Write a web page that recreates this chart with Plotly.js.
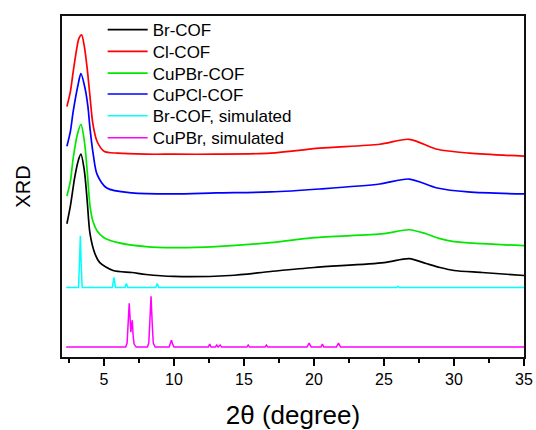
<!DOCTYPE html>
<html>
<head>
<meta charset="utf-8">
<script src="https://cdn.plot.ly/plotly-3.0.1.min.js"></script>
<style>html,body{margin:0;padding:0;background:#fff;}#chart{width:536px;height:430px;}</style>
</head>
<body>
<div id="chart"></div>
<script>
// Values (intensity in arbitrary units, stacked offsets included)
var brCofX = [2.35, 2.6, 2.9, 3.15, 3.35, 3.6, 3.8, 4.0, 4.35, 4.7, 5.65, 7, 8, 10, 14, 16.9, 20, 25, 26.8, 28, 29, 30, 32, 35];
var brCofY = [134, 152, 180, 197, 204, 187, 157, 124, 104, 95, 87, 85, 83, 81, 82, 86, 90, 95, 99, 94, 90, 87, 85, 82];

var clCofX = [2.35, 2.6, 2.8, 3.05, 3.2, 3.4, 3.6, 3.8, 4.0, 4.2, 4.5, 5.0, 6.0, 8, 10, 13, 16.9, 20.4, 24.7, 26.8, 28.8, 31.1, 35];
var clCofY = [252, 267, 287, 310, 320, 324, 312, 290, 262, 235, 217, 207, 205, 204, 204, 204, 205, 210, 214, 219, 209, 205, 202];

var cuPBrCofX = [2.35, 2.6, 2.8, 3.1, 3.35, 3.6, 3.8, 4.0, 4.2, 4.5, 5.0, 6, 8, 10, 13, 16.9, 20, 25, 26.8, 28, 29, 30, 32, 35];
var cuPBrCofY = [162, 177, 200, 224, 234, 217, 187, 152, 137, 127, 120, 115, 111, 110, 111, 115, 120, 124, 128, 124, 119, 116, 114, 112];

var cuPClCofX = [2.35, 2.6, 2.8, 3.15, 3.35, 3.65, 3.85, 4.0, 4.25, 4.5, 5.2, 7, 10, 13, 16.9, 20.4, 24.7, 26.8, 28.8, 31, 35];
var cuPClCofY = [212, 227, 247, 274, 285, 270, 252, 230, 202, 184, 170, 165, 164, 165, 166, 169, 174, 179, 170, 166, 164];

var brSimX = [2.3, 3.18, 3.25, 3.31, 3.37, 3.44, 5.6, 5.71, 5.82, 6.5, 6.6, 6.7, 8.7, 8.8, 8.9, 25.9, 26.0, 26.1, 35];
var brSimY = [70, 70, 95, 122, 95, 70, 70, 80, 70, 70, 74, 70, 70, 74, 70, 70, 71, 70, 70];

var cuPBrSimX = [2.3, 6.55, 6.65, 6.72, 6.8, 6.86, 6.92, 6.97, 7.02, 7.08, 7.15, 7.3, 8.1, 8.2, 8.28, 8.36, 8.44, 8.52, 8.65, 9.65, 9.75, 9.82, 9.9, 10.0, 12.45, 12.55, 12.65, 12.95, 13.05, 13.15, 13.3, 13.4, 13.5, 15.2, 15.3, 15.4, 16.5, 16.6, 16.7, 19.5, 19.65, 19.8, 20.5, 20.6, 20.7, 21.6, 21.75, 21.9, 35];
var cuPBrSimY = [10, 10, 14, 30, 54, 40, 25, 32, 37, 22, 13, 10, 10, 14, 35, 61, 35, 14, 10, 10, 14, 17, 13, 10, 10, 13, 10, 10, 12, 10, 12, 10, 10, 10, 12, 10, 10, 12, 10, 10, 14, 10, 10, 13, 10, 10, 14, 10, 10];

var seriesNames = ['Br-COF', 'Cl-COF', 'CuPBr-COF', 'CuPCl-COF', 'Br-COF, simulated', 'CuPBr, simulated'];
var seriesColors = ['#000000', '#ff0000', '#00e800', '#0000ff', '#00ffff', '#ff00ff'];
var xTickVals = [5, 10, 15, 20, 25, 30, 35];

var xs = [brCofX, clCofX, cuPBrCofX, cuPClCofX, brSimX, cuPBrSimX];
var ys = [brCofY, clCofY, cuPBrCofY, cuPClCofY, brSimY, cuPBrSimY];

// one legend box per entry so the row spacing can match the reference
var legendRowsPaperY = [0.959, 0.895, 0.831, 0.770, 0.706, 0.642];

var traces = seriesNames.map(function(n, i) {
  var sim = i >= 4;
  return {
    type: 'scatter', mode: 'lines', name: n, x: xs[i], y: ys[i],
    legend: i === 0 ? 'legend' : 'legend' + (i + 1),
    line: {color: seriesColors[i], width: sim ? 1.5 : 1.7, shape: sim ? 'linear' : 'spline', smoothing: 0.8}
  };
});

var layout = {
  width: 536, height: 430,
  margin: {l: 62, r: 12, t: 14, b: 73},
  paper_bgcolor: '#ffffff', plot_bgcolor: '#ffffff',
  font: {family: '"Liberation Sans", Arial, sans-serif', color: '#000', size: 16},
  showlegend: true,
  xaxis: {
    range: [2, 35], tickvals: xTickVals, ticktext: xTickVals.map(String),
    showline: true, linecolor: '#111', linewidth: 2, mirror: true,
    ticks: 'outside', ticklen: 7, tickwidth: 1.5, tickcolor: '#000',
    minor: {ticks: 'outside', ticklen: 4, tickwidth: 1.5, tickcolor: '#000', tick0: 2.5, dtick: 2.5},
    showgrid: false, zeroline: false,
    tickfont: {size: 16},
    title: {text: '2θ (degree)', font: {size: 26}, standoff: 21}
  },
  yaxis: {
    range: [0, 343], showticklabels: false, ticks: '',
    showline: true, linecolor: '#111', linewidth: 2, mirror: true,
    showgrid: false, zeroline: false,
    title: {text: 'XRD', font: {size: 20}, standoff: 24}
  }
};

legendRowsPaperY.forEach(function(yy, i) {
  var key = i === 0 ? 'legend' : 'legend' + (i + 1);
  layout[key] = {
    x: 0.088, y: yy, xanchor: 'left', yanchor: 'middle',
    bgcolor: 'rgba(0,0,0,0)', borderwidth: 0,
    font: {size: 17, family: '"Liberation Sans", Arial, sans-serif', color: '#000'},
    itemwidth: 40
  };
});

Plotly.newPlot('chart', traces, layout, {displayModeBar: false, staticPlot: true});
</script>
</body>
</html>
